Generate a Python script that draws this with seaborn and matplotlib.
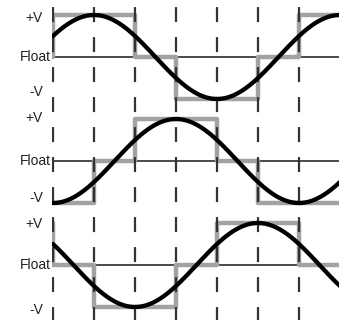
import numpy as np
import pandas as pd
import matplotlib
matplotlib.use("Agg")
import matplotlib.pyplot as plt
import seaborn as sns

# Electrical angle grid (degrees) of the commutation steps
step_angles = [-60, 0, 60, 120, 180, 240, 300, 360, 420]

# Six-step drive state per phase for each 60° interval (+1 = +V, 0 = float, -1 = -V)
phase_a_states = [0, 1, 1, 0, -1, -1, 0, 1, 1]
phase_b_states = [-1, -1, 0, 1, 1, 0, -1, -1, -1]
phase_c_states = [1, 0, -1, -1, 0, 1, 1, 0, 0]

# Angle at which each phase's back-EMF reaches its positive peak
emf_peak_deg = [60, 180, 300]

# Commutation instants marked by dashed guides
commutation_deg = [0, 60, 120, 180, 240, 300, 360]

level_labels = ["+V", "Float", "-V"]

sns.set_theme(style="white")
plt.rcParams["font.family"] = ["Liberation Sans", "DejaVu Sans"]
plt.rcParams["lines.scale_dashes"] = False

fig = plt.figure(figsize=(3.39, 3.20), dpi=100)
ax = fig.add_axes([52 / 339, 0, 1 - 52 / 339, 1])
ax.set_axis_off()

px_per_deg = 41 / 60
x_left = -1 / px_per_deg
x_right = x_left + (339 - 52) / px_per_deg
ax.set_xlim(x_left, x_right)
ax.set_ylim(320, 0)

baselines = [57, 161, 265]
amp = 42
label_offsets = [(-39.5, 35), (-43, 37), (-41, 45)]

states = [phase_a_states, phase_b_states, phase_c_states]
theta = np.linspace(0, 430, 600)

for i, base in enumerate(baselines):
    ax.axhline(base, color="#1a1a1a", lw=1.1, zorder=1)

    step_df = pd.DataFrame({
        "angle": step_angles,
        "y": [base - amp * s for s in states[i]],
    })
    sns.lineplot(data=step_df, x="angle", y="y", ax=ax, color="#a2a2a2",
                 lw=3.2, drawstyle="steps-post", estimator=None, sort=False,
                 zorder=2)

    emf_df = pd.DataFrame({
        "angle": theta,
        "y": base - amp * np.cos(np.radians(theta - emf_peak_deg[i])),
    })
    sns.lineplot(data=emf_df, x="angle", y="y", ax=ax, color="black",
                 lw=3.1, estimator=None, sort=False, zorder=4)

    up, down = label_offsets[i]
    ax.text(-10 / px_per_deg, base + up, level_labels[0], ha="right",
            va="center", fontsize=10, color="#222222")
    ax.text(-2 / px_per_deg, base, level_labels[1], ha="right",
            va="center", fontsize=10, color="#222222")
    ax.text(-10 / px_per_deg, base + down, level_labels[2], ha="right",
            va="center", fontsize=10, color="#222222")

for c in commutation_deg:
    ax.plot([c, c], [0, 320], color="#333333", lw=1.6,
            linestyle=(16.5, (10.8, 10.8)), zorder=3)

ax.set_xlabel("")
ax.set_ylabel("")
fig.savefig("out.png", dpi=100)
